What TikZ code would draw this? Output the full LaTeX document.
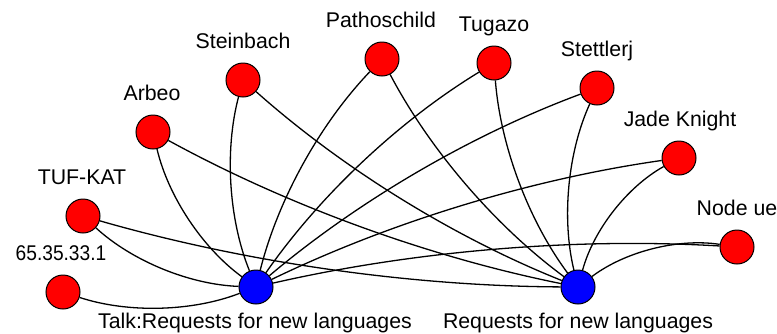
\documentclass[tikz,border=0pt]{standalone}
\usepackage{fontspec}
\setmainfont{Liberation Sans}
\usetikzlibrary{calc}
\begin{document}
\begin{tikzpicture}[x=1pt,y=-1pt,
  vert/.style={circle,draw=black,line width=1pt,minimum size=34pt,inner sep=0pt},
  rednode/.style={vert,fill=red},
  bluenode/.style={vert,fill=blue},
  lab/.style={anchor=base,inner sep=0pt,font=\fontsize{21.3}{25}\selectfont},
  link/.style={line width=1.3pt,
    to path={.. controls ($(\tikztostart)!0.3333!(\tikztotarget)!23pt!-90:(\tikztotarget)$)
             and ($(\tikztotarget)!0.3333!(\tikztostart)!23pt!90:(\tikztostart)$) .. (\tikztotarget)}}
]
\useasboundingbox (0,0) rectangle (777,333);
% nodes
\node[bluenode] (talk) at (256,287) {};
\node[bluenode] (req)  at (578,287) {};
\node[rednode] (ip)    at (63,292) {};
\node[rednode] (tuf)   at (83,216) {};
\node[rednode] (arbeo) at (153,132) {};
\node[rednode] (stein) at (243,80) {};
\node[rednode] (patho) at (382,59) {};
\node[rednode] (tuga)  at (494,63) {};
\node[rednode] (stett) at (597,88) {};
\node[rednode] (jade)  at (679,158) {};
\node[rednode] (ue)    at (737,247) {};
% labels
\node[lab] (lip)    at (61,260)  {\scalebox{0.9}[1]{65.35.33.1}};
\node[lab] (ltuf)   at (82,184)  {TUF-KAT};
\node[lab] (larbeo) at (152,100) {Arbeo};
\node[lab] (lstein) at (243,48)  {Steinbach};
\node[lab] (lpatho) at (381,27)  {Pathoschild};
\node[lab] (ltuga)  at (494,31)  {Tugazo};
\node[lab] (lstett) at (597,56)  {Stettlerj};
\node[lab] (ljade)  at (680,126) {Jade Knight};
\node[lab] (lue)    at (737,215) {Node ue};
\node[lab] (ltalk)  at (255,328) {Talk:Requests for new languages};
\node[lab] (lreq)   at (578,328) {Requests for new languages};
% edges
\draw[link] (ip) to (talk);
\foreach \n in {tuf,arbeo,stein,patho,tuga,stett,jade,ue}{
  \draw[link] (\n) to (talk);
  \draw[link] (\n) to (req);
}
\end{tikzpicture}
\end{document}
